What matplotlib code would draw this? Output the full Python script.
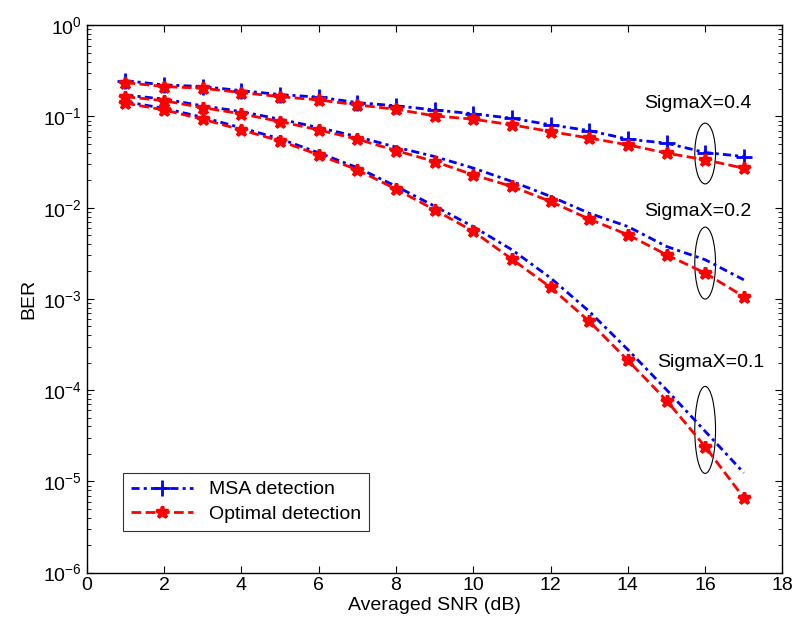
import matplotlib
matplotlib.use("Agg")
import matplotlib.pyplot as plt
from matplotlib.patches import Ellipse

plt.rcParams['font.family'] = ['Liberation Sans', 'DejaVu Sans']

snr = list(range(1, 18))

# SigmaX = 0.4
msa_04 = [0.247, 0.222, 0.213, 0.192, 0.174, 0.163, 0.142, 0.131, 0.118,
          0.107, 0.0957, 0.081, 0.070, 0.0564, 0.051, 0.0403, 0.0364]
opt_04 = [0.235, 0.213, 0.204, 0.183, 0.165, 0.152, 0.134, 0.120, 0.1016,
          0.0934, 0.081, 0.0684, 0.058, 0.0489, 0.0397, 0.0335, 0.0271]
# SigmaX = 0.2
msa_02 = [0.172, 0.155, 0.131, 0.113, 0.0934, 0.0756, 0.0602, 0.0461, 0.0364,
          0.0272, 0.0194, 0.0133, 0.0087, 0.00622, 0.00376, 0.00269, 0.00162]
opt_02 = [0.165, 0.149, 0.125, 0.107, 0.088, 0.0713, 0.0564, 0.0423, 0.0321,
          0.0229, 0.0171, 0.0117, 0.0075, 0.00505, 0.00305, 0.00192, 0.00106]
# SigmaX = 0.1
msa_01 = [0.145, 0.123, 0.098, 0.075, 0.057, 0.040, 0.0275, 0.0172, 0.0104,
          0.0062, 0.00346, 0.0017, 0.00073, 0.000278, 0.000101, 3.54e-5, 1.24e-5]
opt_01 = [0.14, 0.118, 0.0934, 0.0713, 0.054, 0.038, 0.026, 0.016, 0.0095,
          0.0055, 0.00273, 0.00134, 0.000568, 0.000212, 7.7e-5, 2.4e-5, 6.6e-6]

labels = ["SigmaX=0.4", "SigmaX=0.2", "SigmaX=0.1"]
label_pos = [(14.41, 0.14), (14.41, 0.0091), (14.76, 1.99e-4)]
# ellipse centres / heights in axes fraction (log axis)
ell_y = [0.7657, 0.5655, 0.2607]
ell_h = [0.111, 0.1315, 0.159]

FS = 14

fig = plt.figure(figsize=(7.96, 6.32), dpi=100)
ax = fig.add_axes([0.109, 0.094, 0.874, 0.866])

blue_kw = dict(color='blue', linestyle=(0, (2.9, 1.5, 1.1, 1.5)), linewidth=2)
red_kw = dict(color='red', linestyle=(0, (3.5, 1.6)), linewidth=2, marker='*',
              markersize=9, markeredgewidth=2.5)

ax.plot(snr, msa_04, marker='+', markersize=11, markeredgewidth=2,
        label='MSA detection', **blue_kw)
ax.plot(snr, opt_04, label='Optimal detection', **red_kw)
ax.plot(snr, msa_02, **blue_kw)
ax.plot(snr, opt_02, **red_kw)
ax.plot(snr, msa_01, **blue_kw)
ax.plot(snr, opt_01, **red_kw)

for txt, (tx, ty) in zip(labels, label_pos):
    ax.text(tx, ty, txt, fontsize=FS, ha='left', va='center')

for cy, h in zip(ell_y, ell_h):
    ax.add_patch(Ellipse((16 / 18, cy), 0.0298, h, transform=ax.transAxes,
                         fill=False, edgecolor='black', linewidth=0.8))

ax.set_yscale('log')
ax.set_xlim(0, 18)
ax.set_ylim(1e-6, 1)
ax.set_xticks(range(0, 19, 2))
ax.set_xlabel('Averaged SNR (dB)', fontsize=FS, labelpad=2)
ax.set_ylabel('BER', fontsize=FS, labelpad=4)
ax.tick_params(axis='both', which='both', direction='in', labelsize=FS)
ax.tick_params(top=True, right=True, which='both')
ax.tick_params(which='major', length=5)
ax.tick_params(which='minor', length=3)
for s in ax.spines.values():
    s.set_linewidth(1)

leg = ax.legend(loc='lower left', bbox_to_anchor=(0.0527, 0.0767),
                borderaxespad=0, fontsize=FS, fancybox=False,
                edgecolor='black', handlelength=3.2, labelspacing=0.35)
leg.get_frame().set_linewidth(0.8)

fig.savefig('out.png', dpi=100)
